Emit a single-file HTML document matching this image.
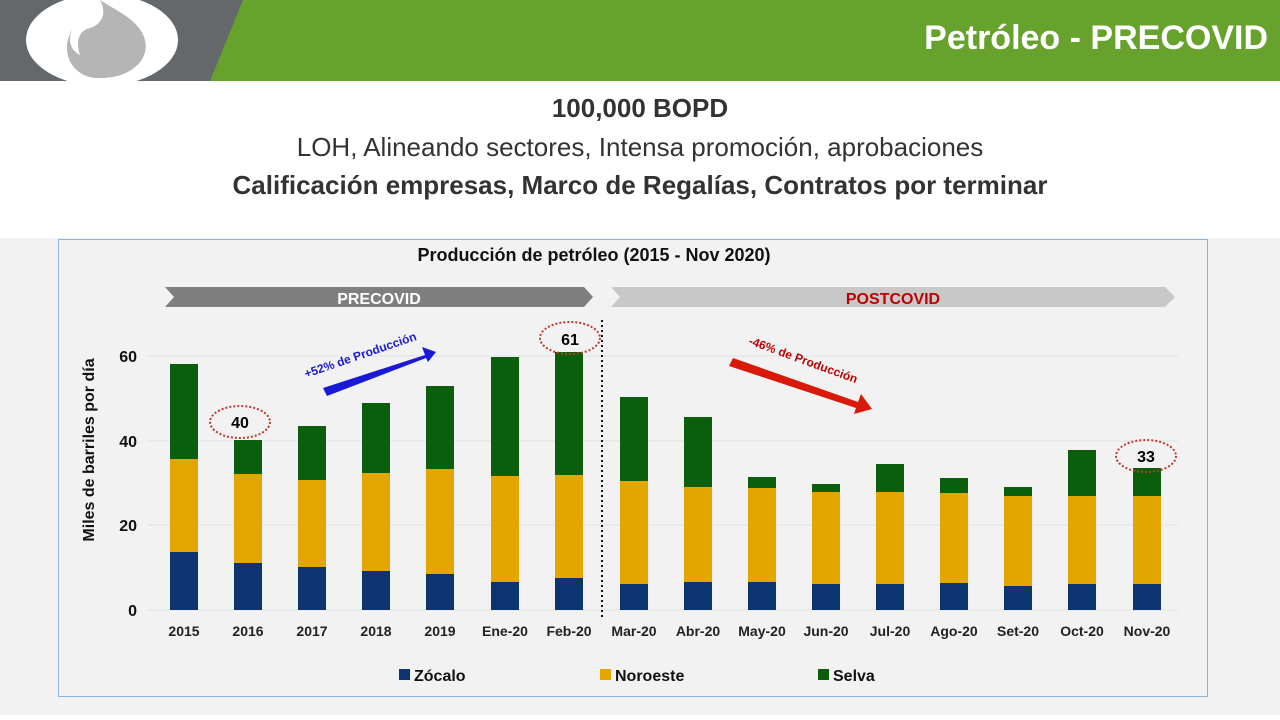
<!DOCTYPE html>
<html><head><meta charset="utf-8"><style>
body{margin:0;width:1280px;height:715px;overflow:hidden;background:#fff;font-family:"Liberation Sans",sans-serif}
</style></head><body>
<svg width="1280" height="715" viewBox="0 0 1280 715" xmlns="http://www.w3.org/2000/svg" font-family="Liberation Sans, sans-serif">
<rect x="0" y="0" width="1280" height="81" fill="#64686b"/>
<polygon points="243,0 1280,0 1280,81 210,81" fill="#67a22d"/>
<ellipse cx="102" cy="40" rx="76" ry="46" fill="#fff"/>
<path d="M72,30 C60,50 70,75 95,78 C130,80 150,60 145,40 C140,20 115,10 100,0 C108,15 100,25 90,28 C80,30 75,40 80,55 C70,50 68,40 72,30Z" fill="#b5b5b5"/>
<text x="1268" y="49" text-anchor="end" font-size="34" font-weight="bold" fill="#fff">Petróleo - PRECOVID</text>
<text x="640" y="117" text-anchor="middle" font-size="26" font-weight="bold" fill="#333">100,000  BOPD</text>
<text x="640" y="156" text-anchor="middle" font-size="26" fill="#333">LOH, Alineando sectores, Intensa promoción, aprobaciones</text>
<text x="640" y="194" text-anchor="middle" font-size="26" font-weight="bold" fill="#333">Calificación empresas, Marco de Regalías, Contratos por terminar</text>
<rect x="0" y="238" width="1280" height="477" fill="#f2f2f2"/>
<rect x="58.5" y="239.5" width="1149" height="457" fill="#f2f2f2" stroke="#8fb3e0"/>
<text x="594" y="261" text-anchor="middle" font-size="18" font-weight="bold" fill="#111">Producción de petróleo (2015 - Nov 2020)</text>
<polygon points="165,287 584,287 593,297 584,307 165,307 174,297" fill="#7f7f7f"/>
<text x="379" y="304" text-anchor="middle" font-size="16" font-weight="bold" fill="#fff">PRECOVID</text>
<polygon points="611,287 1165,287 1175,297 1165,307 611,307 620,297" fill="#c8c8c8"/>
<text x="893" y="304" text-anchor="middle" font-size="16" font-weight="bold" fill="#c00000">POSTCOVID</text>
<g stroke="#e2e2e2" stroke-width="1">
<line x1="148" y1="356" x2="1178" y2="356"/><line x1="148" y1="441" x2="1178" y2="441"/><line x1="148" y1="525" x2="1178" y2="525"/><line x1="148" y1="610" x2="1178" y2="610"/>
</g>
<g font-size="16" font-weight="bold" fill="#111" text-anchor="end">
<text x="137" y="362">60</text><text x="137" y="447">40</text><text x="137" y="531">20</text><text x="137" y="616">0</text>
</g>
<text transform="translate(94,450) rotate(-90)" text-anchor="middle" font-size="16" font-weight="bold" fill="#111">Miles de barriles por día</text>
<g id="bars"></g>
<line x1="602" y1="320" x2="602" y2="617" stroke="#111" stroke-width="2" stroke-dasharray="2,3"/>
<g font-size="14" font-weight="bold" fill="#222" text-anchor="middle" id="lbl"></g>
<ellipse cx="240" cy="422" rx="30" ry="16" fill="none" stroke="#c0392b" stroke-width="2" stroke-dasharray="2,2"/>
<text x="240" y="428" text-anchor="middle" font-size="16" font-weight="bold">40</text>
<ellipse cx="570" cy="338" rx="30" ry="16" fill="none" stroke="#c0392b" stroke-width="2" stroke-dasharray="2,2"/>
<text x="570" y="345" text-anchor="middle" font-size="16" font-weight="bold">61</text>
<ellipse cx="1146" cy="456" rx="30" ry="16" fill="none" stroke="#c0392b" stroke-width="2" stroke-dasharray="2,2"/>
<text x="1146" y="462" text-anchor="middle" font-size="16" font-weight="bold">33</text>
<polygon points="323,388 425,355 422,347 436,352 428,362 426,358 327,396" fill="#1a1ad6"/>
<text transform="translate(306,378) rotate(-19)" font-size="12" fill="#1a1ad6" font-weight="bold">+52% de Producción</text>
<polygon points="733,358 858,402 861,394 872,409 854,414 856,408 729,366" fill="#d91a0a"/>
<text transform="translate(748,344) rotate(20)" font-size="12" fill="#c00000" font-weight="bold">-46% de Producción</text>
<rect x="399" y="669" width="11" height="11" fill="#0b3470"/><text x="414" y="681" font-size="16" font-weight="bold" fill="#111">Zócalo</text>
<rect x="600" y="669" width="11" height="11" fill="#e3a600"/><text x="615" y="681" font-size="16" font-weight="bold" fill="#111">Noroeste</text>
<rect x="818" y="669" width="11" height="11" fill="#0b5e0b"/><text x="833" y="681" font-size="16" font-weight="bold" fill="#111">Selva</text>
</svg>
<script>
const d=[["2015",184,552,459,364],["2016",248,563,474,440],["2017",312,567,480,426],["2018",376,571,473,403],["2019",440,574,469,386],["Ene-20",505,582,476,357],["Feb-20",569,578,475,352],["Mar-20",634,584,481,397],["Abr-20",698,582,487,417],["May-20",762,582,488,477],["Jun-20",826,584,492,484],["Jul-20",890,584,492,464],["Ago-20",954,583,493,478],["Set-20",1018,586,496,487],["Oct-20",1082,584,496,450],["Nov-20",1147,584,496,468]];
const ns="http://www.w3.org/2000/svg",b=document.getElementById("bars"),l=document.getElementById("lbl");
function r(x,y,h,c){const e=document.createElementNS(ns,"rect");e.setAttribute("x",x-14);e.setAttribute("y",y);e.setAttribute("width",28);e.setAttribute("height",h);e.setAttribute("fill",c);b.appendChild(e);}
d.forEach(([n,x,z,no,s])=>{r(x,z,610-z,"#0b3470");r(x,no,z-no,"#e3a600");r(x,s,no-s,"#0b5e0b");
const t=document.createElementNS(ns,"text");t.setAttribute("x",x);t.setAttribute("y",636);t.textContent=n;l.appendChild(t);});
</script>
</body></html>
